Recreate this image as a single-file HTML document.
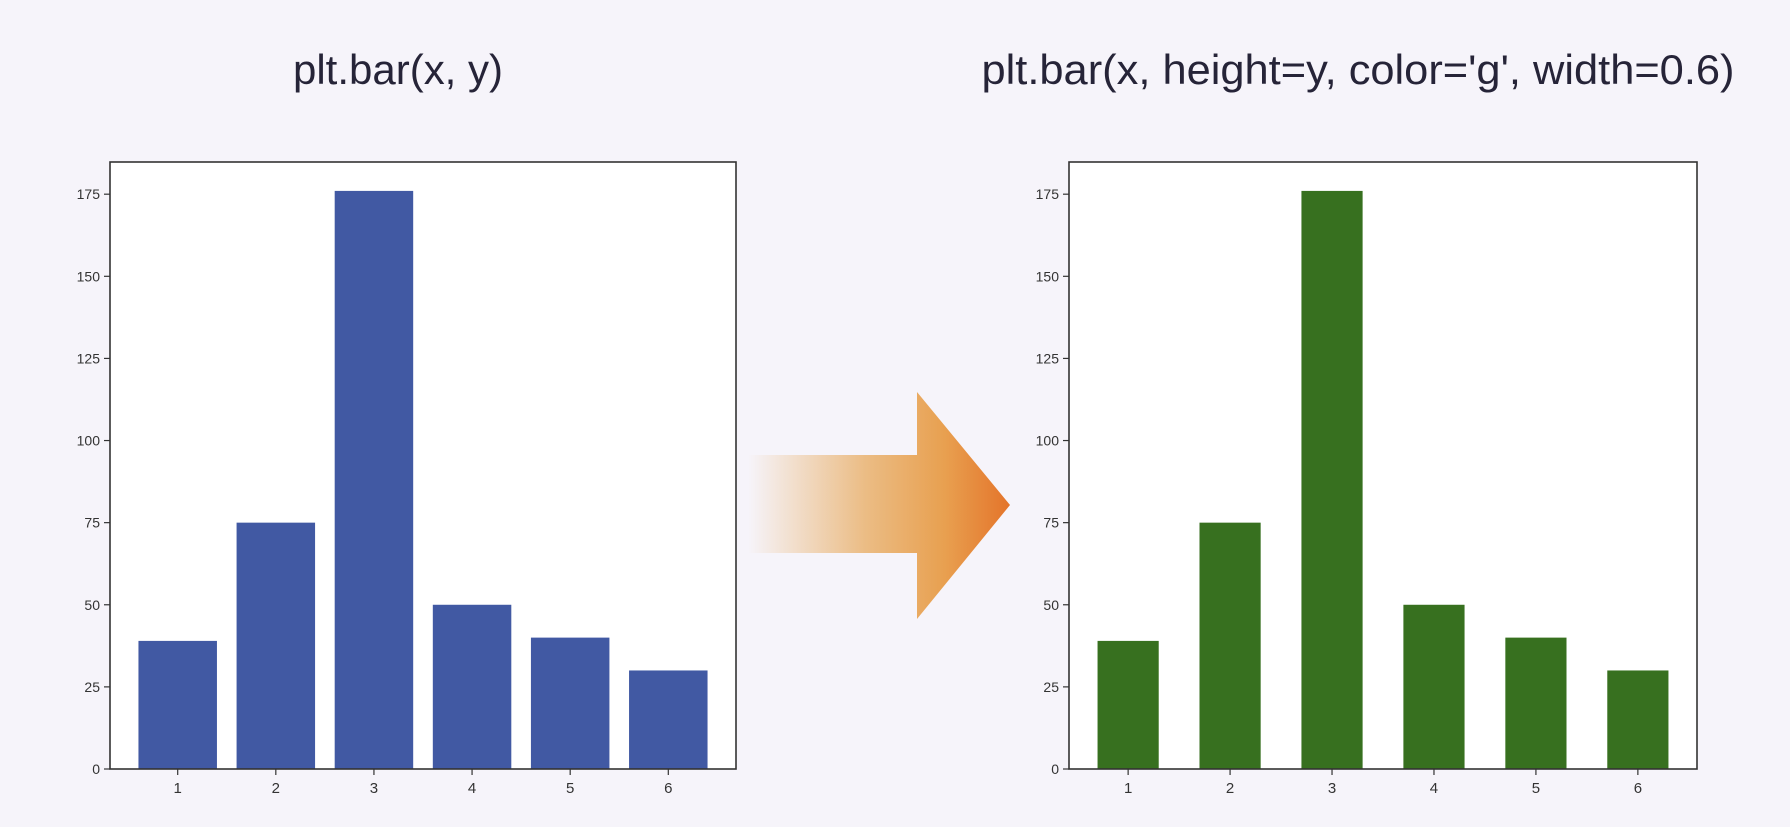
<!DOCTYPE html>
<html><head><meta charset="utf-8"><style>
html,body{margin:0;padding:0;background:#f6f4fa;}
svg{display:block;}
text{font-family:"Liberation Sans",sans-serif;}
</style></head><body>
<svg width="1790" height="827" viewBox="0 0 1790 827">
<defs>
<linearGradient id="ag" x1="748" y1="0" x2="1010" y2="0" gradientUnits="userSpaceOnUse">
<stop offset="0" stop-color="#f6f4fa"/>
<stop offset="0.45" stop-color="#ebbc84"/>
<stop offset="0.75" stop-color="#e8a050"/>
<stop offset="1" stop-color="#e4742a"/>
</linearGradient>
</defs>
<rect width="1790" height="827" fill="#f6f4fa"/>
<text x="398" y="84" font-size="42" fill="#262438" text-anchor="middle" textLength="210" lengthAdjust="spacingAndGlyphs">plt.bar(x, y)</text>
<text x="1358" y="84" font-size="42" fill="#262438" text-anchor="middle" textLength="753" lengthAdjust="spacingAndGlyphs">plt.bar(x, height=y, color='g', width=0.6)</text>
<polygon points="748,455 917,455 917,392 1010,505 917,619 917,553 748,553" fill="url(#ag)"/>
<g id="left"></g>
<g id="right"></g>
</svg>
<script>
const categories = [1, 2, 3, 4, 5, 6];
const values = [39, 75, 176, 50, 40, 30];
const yTicks = [0, 25, 50, 75, 100, 125, 150, 175];
const NS = 'http://www.w3.org/2000/svg';
function mk(tag, attrs, parent) {
  const e = document.createElementNS(NS, tag);
  for (const k in attrs) e.setAttribute(k, attrs[k]);
  parent.appendChild(e);
  return e;
}
function draw(gid, L, R, T, B, barW, color, prefix) {
  const g = document.getElementById(gid);
  const n = categories.length;
  const xmin = 1 - barW / 2 - 0.05 * (n - 1 + barW);
  const xmax = n + barW / 2 + 0.05 * (n - 1 + barW);
  const ymax = Math.max(...values) * 1.05;
  const xs = v => L + (v - xmin) / (xmax - xmin) * (R - L);
  const ys = v => B - v / ymax * (B - T);
  const bg = mk('rect', {x: L, y: T, width: R - L, height: B - T, fill: '#fff'}, g);
  
  
  categories.forEach((c, i) => {
    const r = mk('rect', {x: xs(c - barW / 2), y: ys(values[i]), width: xs(c + barW / 2) - xs(c - barW / 2), height: B - ys(values[i]), fill: color}, g);
    
    
    const tk = mk('line', {x1: xs(c), x2: xs(c), y1: B, y2: B + 6, stroke: '#333', 'stroke-width': 1.2}, g);
    
    
    const t = mk('text', {x: xs(c), y: B + 24, 'font-size': 15, fill: '#333', 'text-anchor': 'middle'}, g);
    t.textContent = c;
    
    
  });
  yTicks.forEach(v => {
    const tk = mk('line', {x1: L - 6, x2: L, y1: ys(v), y2: ys(v), stroke: '#333', 'stroke-width': 1.2}, g);
    
    
    const t = mk('text', {x: L - 10, y: ys(v) + 5, 'font-size': 14, fill: '#333', 'text-anchor': 'end'}, g);
    t.textContent = v;
    
    
  });
  const fr = mk('rect', {x: L, y: T, width: R - L, height: B - T, fill: 'none', stroke: '#333', 'stroke-width': 1.6}, g);
  
  
}
draw('left', 110, 736, 162, 769, 0.8, '#4159a3', 'left');
draw('right', 1069, 1697, 162, 769, 0.6, '#37701f', 'right');
</script>
</body></html>
